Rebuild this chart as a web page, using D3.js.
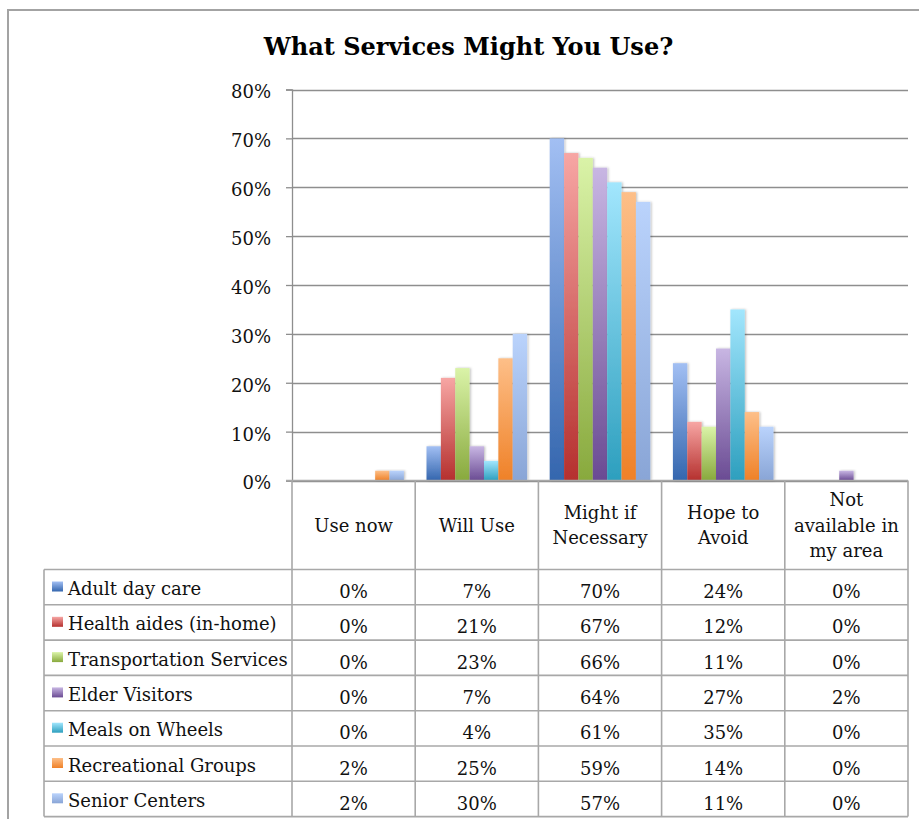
<!DOCTYPE html>
<html>
<head>
<meta charset="utf-8">
<script src="https://cdn.jsdelivr.net/npm/d3@7"></script>
<style>
  html, body { margin: 0; padding: 0; background: #fff; }
  svg { display: block; }
  text { font-family: "DejaVu Serif", serif; fill: #111; }
</style>
</head>
<body>
<svg id="chart" width="919" height="819"></svg>
<script>
// ---------- data ----------
const title = "What Services Might You Use?";
const categories = ["Use now", "Will Use", "Might if Necessary", "Hope to Avoid", "Not available in my area"];
const categoryLines = [["Use now"], ["Will Use"], ["Might if", "Necessary"], ["Hope to", "Avoid"], ["Not", "available in", "my area"]];
const seriesNames = ["Adult day care", "Health aides (in-home)", "Transportation Services", "Elder Visitors", "Meals on Wheels", "Recreational Groups", "Senior Centers"];
const adultDayCare      = [0, 7, 70, 24, 0];
const healthAides       = [0, 21, 67, 12, 0];
const transportation    = [0, 23, 66, 11, 0];
const elderVisitors     = [0, 7, 64, 27, 2];
const mealsOnWheels     = [0, 4, 61, 35, 0];
const recreational      = [2, 25, 59, 14, 0];
const seniorCenters     = [2, 30, 57, 11, 0];
const seriesValues = [adultDayCare, healthAides, transportation, elderVisitors, mealsOnWheels, recreational, seniorCenters];
const yTicks = [0, 10, 20, 30, 40, 50, 60, 70, 80];
const colorTop    = ["#a2bff3", "#f7a6a4", "#daf3a8", "#c8b6e3", "#a2e6fd", "#fdbf88", "#bad3fc"];
const colorBottom = ["#3466ae", "#b5302e", "#88a93d", "#6a4b93", "#2d9fbe", "#ef8128", "#89a5d6"];

// ---------- layout ----------
const svg = d3.select("#chart");
const plotLeft = 292, plotRight = 908, plotTop = 89.5, plotBottom = 480.5;
const tableLeft = 44, headerBottom = 569.5, rowH = 35.3;
const gridColor = "#8e8e8e", tableColor = "#a8a8a8";

const x = d3.scaleBand().domain(categories).range([plotLeft, plotRight]).paddingInner(0).paddingOuter(0);
const xs = d3.scaleBand().domain(seriesNames).range([0, x.bandwidth()]).paddingInner(0).paddingOuter(0.787);
const y = d3.scaleLinear().domain([0, 80]).range([plotBottom, plotTop]);

// gradients
const defs = svg.append("defs");
seriesNames.forEach((s, i) => {
  const g = defs.append("linearGradient").attr("id", "grad" + i)
    .attr("x1", 0).attr("y1", 0).attr("x2", 0).attr("y2", 1);
  g.append("stop").attr("offset", "0%").attr("stop-color", colorTop[i]);
  g.append("stop").attr("offset", "100%").attr("stop-color", colorBottom[i]);
});
const f = defs.append("filter").attr("id", "shadow").attr("x", "-30%").attr("y", "-10%").attr("width", "160%").attr("height", "120%");
f.append("feDropShadow").attr("dx", 1.2).attr("dy", 0).attr("stdDeviation", 0.9).attr("flood-color", "#000").attr("flood-opacity", 0.25);

// outer border
svg.append("rect").attr("x", 8).attr("y", 10).attr("width", 1000).attr("height", 1000)
  .attr("fill", "none").attr("stroke", "#a3a3a3").attr("stroke-width", 2);

// title
svg.append("text").attr("x", 468.5).attr("y", 55).attr("text-anchor", "middle")
  .style("font-size", "24px").style("font-weight", "bold").style("fill", "#000").text(title);

// gridlines
svg.append("g").selectAll("line").data(yTicks).join("line")
  .attr("x1", plotLeft).attr("x2", plotRight)
  .attr("y1", d => Math.round(y(d)) + 0.5).attr("y2", d => Math.round(y(d)) + 0.5)
  .attr("stroke", gridColor).attr("stroke-width", 1.3);

// y axis
const yAxis = svg.append("g").attr("transform", `translate(${plotLeft},0)`)
  .call(d3.axisLeft(y).tickValues(yTicks).tickSize(6).tickPadding(15).tickFormat(d => d + "%"));
yAxis.select(".domain").attr("stroke", gridColor).attr("stroke-width", 1.3);
yAxis.selectAll(".tick line").attr("stroke", gridColor).attr("stroke-width", 1.3);
yAxis.selectAll("text").attr("dy", "0.47em").style("font-size", "18px").style("font-family", "DejaVu Serif").attr("fill", "#111");

// bars
const barG = svg.append("g");
seriesNames.forEach((s, i) => {
  barG.append("g").selectAll("rect").data(seriesValues[i].map((v, j) => ({ v, c: categories[j] })))
    .join("rect")
    .filter(d => d.v > 0)
    .attr("x", d => x(d.c) + xs(s))
    .attr("width", xs.bandwidth())
    .attr("y", d => y(d.v))
    .attr("height", d => y(0) - y(d.v))
    .attr("fill", `url(#grad${i})`)
    .attr("filter", "url(#shadow)");
});

// x baseline
svg.append("line").attr("x1", plotLeft - 6).attr("x2", plotRight)
  .attr("y1", plotBottom).attr("y2", plotBottom).attr("stroke", tableColor).attr("stroke-width", 1.6);

// ---------- data table ----------
const tbl = svg.append("g").attr("stroke", tableColor).attr("stroke-width", 1.6);
const tableBottom = headerBottom + rowH * seriesNames.length;
const colEdges = categories.map(c => x(c)).concat([plotRight]);
tbl.selectAll("line.col").data(colEdges).join("line").attr("class", "col")
  .attr("x1", d => d).attr("x2", d => d).attr("y1", plotBottom).attr("y2", tableBottom);
tbl.append("line").attr("x1", tableLeft).attr("x2", tableLeft).attr("y1", headerBottom).attr("y2", tableBottom);
const rowEdges = d3.range(seriesNames.length + 1).map(k => headerBottom + k * rowH);
tbl.selectAll("line.row").data(rowEdges).join("line").attr("class", "row")
  .attr("x1", tableLeft).attr("x2", plotRight).attr("y1", d => d).attr("y2", d => d);

// header labels
const lineH = 25.3;
categoryLines.forEach((lines, j) => {
  const cx = x(categories[j]) + x.bandwidth() / 2;
  const mid = (plotBottom + headerBottom) / 2 + 6.5;
  const t = svg.append("text").attr("text-anchor", "middle").style("font-size", "18px");
  lines.forEach((ln, k) => {
    t.append("tspan").attr("x", cx).attr("y", mid + (k - (lines.length - 1) / 2) * lineH).text(ln);
  });
});

// legend + values
seriesNames.forEach((s, i) => {
  const top = headerBottom + i * rowH;
  svg.append("rect").attr("x", 52).attr("y", top + 12).attr("width", 11).attr("height", 10)
    .attr("fill", `url(#grad${i})`);
  svg.append("text").attr("x", 68).attr("y", top + 25.5).style("font-size", "18px").text(s);
  seriesValues[i].forEach((v, j) => {
    svg.append("text").attr("x", x(categories[j]) + x.bandwidth() / 2).attr("y", top + 28.5)
      .attr("text-anchor", "middle").style("font-size", "18px").text(v + "%");
  });
});
</script>
</body>
</html>
